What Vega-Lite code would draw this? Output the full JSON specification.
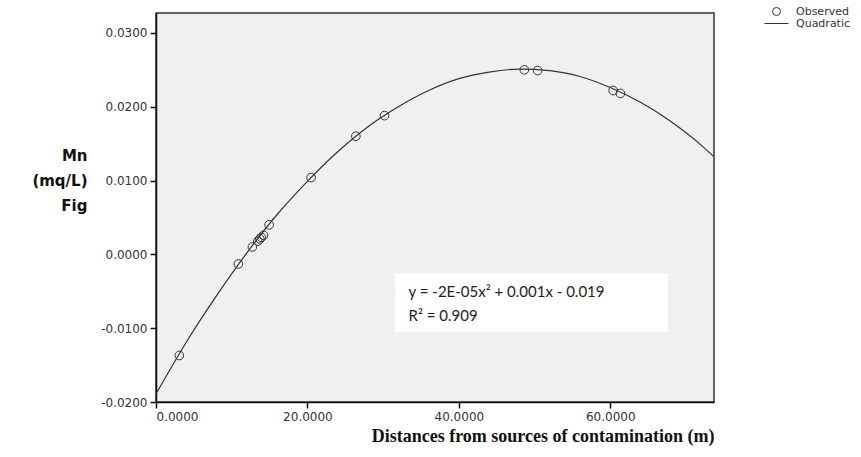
{
  "$schema": "https://vega.github.io/schema/vega-lite/v6.json",
  "autosize": "none",
  "width": 558,
  "height": 389,
  "padding": {"left": 156, "top": 13, "right": 147, "bottom": 55},
  "background": "white",
  "datasets": {
    "curve": [
      {"x": 0, "y": -0.0189}, {"x": 4, "y": -0.0119}, {"x": 8, "y": -0.0056}, {"x": 12, "y": 0.0002},
      {"x": 16, "y": 0.0054}, {"x": 20, "y": 0.0099}, {"x": 24, "y": 0.0139}, {"x": 28, "y": 0.0173},
      {"x": 32, "y": 0.0200}, {"x": 36, "y": 0.0222}, {"x": 40, "y": 0.0238}, {"x": 44, "y": 0.0247},
      {"x": 48, "y": 0.0251}, {"x": 52, "y": 0.0249}, {"x": 56, "y": 0.0241}, {"x": 60, "y": 0.0226},
      {"x": 64, "y": 0.0206}, {"x": 68, "y": 0.0180}, {"x": 72, "y": 0.0148}, {"x": 73.7, "y": 0.0132}
    ],
    "observed": [
      {"x": 3.08, "y": -0.0137, "series": "Observed"},
      {"x": 10.88, "y": -0.0013, "series": "Observed"},
      {"x": 12.73, "y": 0.0010, "series": "Observed"},
      {"x": 13.45, "y": 0.0018, "series": "Observed"},
      {"x": 13.71, "y": 0.0021, "series": "Observed"},
      {"x": 13.92, "y": 0.0023, "series": "Observed"},
      {"x": 14.2, "y": 0.0026, "series": "Observed"},
      {"x": 14.94, "y": 0.0040, "series": "Observed"},
      {"x": 20.49, "y": 0.0104, "series": "Observed"},
      {"x": 26.4, "y": 0.0160, "series": "Observed"},
      {"x": 30.18, "y": 0.0188, "series": "Observed"},
      {"x": 48.65, "y": 0.0250, "series": "Observed"},
      {"x": 50.41, "y": 0.0249, "series": "Observed"},
      {"x": 60.38, "y": 0.0222, "series": "Observed"},
      {"x": 61.34, "y": 0.0218, "series": "Observed"}
    ],
    "box": [{"x": 31.6, "x2": 67.6, "y": -0.00254, "y2": -0.01048}],
    "notes": [
      {"x": 33.36, "y": -0.00513, "label": "y = -2E-05x² + 0.001x - 0.019"},
      {"x": 33.36, "y": -0.0083, "label": "R² = 0.909"}
    ]
  },
  "encoding": {
    "x": {
      "field": "x", "type": "quantitative",
      "scale": {"domain": [0, 73.7], "nice": false, "zero": false},
      "axis": {
        "values": [0, 20, 40, 60], "format": ".4f",
        "title": "Distances from sources of contamination (m)",
        "titleFont": "Liberation Serif", "titleFontSize": 18, "titleFontWeight": "bold",
        "titleColor": "#111", "titleAnchor": "end", "titleAlign": "right", "titlePadding": 5
      }
    },
    "y": {
      "field": "y", "type": "quantitative",
      "scale": {"domain": [-0.02, 0.0327], "nice": false, "zero": false},
      "axis": {
        "values": [-0.02, -0.01, 0, 0.01, 0.02, 0.03], "format": ".4f",
        "labelExpr": "replace(datum.label, '−', '-')",
        "title": ["Mn", "(mq/L)", "Fig"],
        "titleAngle": 0, "titleAlign": "right", "titleBaseline": "alphabetic",
        "titleX": -69, "titleY": 147, "titleLineHeight": 25,
        "titleFont": "DejaVu Sans", "titleFontSize": 15, "titleFontWeight": "bold", "titleColor": "#111"
      }
    }
  },
  "layer": [
    {
      "data": {"name": "box"},
      "mark": {"type": "rect", "fill": "white", "stroke": null},
      "encoding": {"x2": {"field": "x2"}, "y2": {"field": "y2"}}
    },
    {
      "data": {"name": "curve"},
      "mark": {"type": "line", "color": "#333", "strokeWidth": 1.2, "interpolate": "monotone"},
      "encoding": {}
    },
    {
      "data": {"name": "observed"},
      "mark": {"type": "point", "filled": false, "color": "#333", "size": 75, "strokeWidth": 1, "opacity": 1},
      "encoding": {
        "shape": {
          "field": "series", "type": "nominal",
          "scale": {"domain": ["Observed", "Quadratic"], "range": ["circle", "M-3,0H3"]},
          "legend": {
            "title": null, "orient": "none", "legendX": 615, "legendY": -7,
            "symbolSize": 64, "symbolStrokeWidth": 1, "symbolStrokeColor": "#333", "symbolFillColor": "transparent",
            "labelOffset": 14, "labelFont": "DejaVu Sans", "labelFontSize": 11, "labelColor": "#333",
            "rowPadding": -1, "padding": 0
          }
        }
      }
    },
    {
      "data": {"name": "notes"},
      "mark": {"type": "text", "align": "left", "baseline": "middle", "font": "Lato", "fontSize": 15, "color": "#222"},
      "encoding": {"text": {"field": "label"}}
    }
  ],
  "config": {
    "view": {"fill": "#f0f0f0", "stroke": "#333", "strokeWidth": 1.5},
    "axis": {
      "grid": false, "domainColor": "#111", "domainWidth": 1.5, "tickColor": "#111", "tickWidth": 1.5,
      "tickSize": 6, "labelPadding": 3, "labelFont": "DejaVu Sans", "labelFontSize": 12, "labelColor": "#333"
    }
  }
}
